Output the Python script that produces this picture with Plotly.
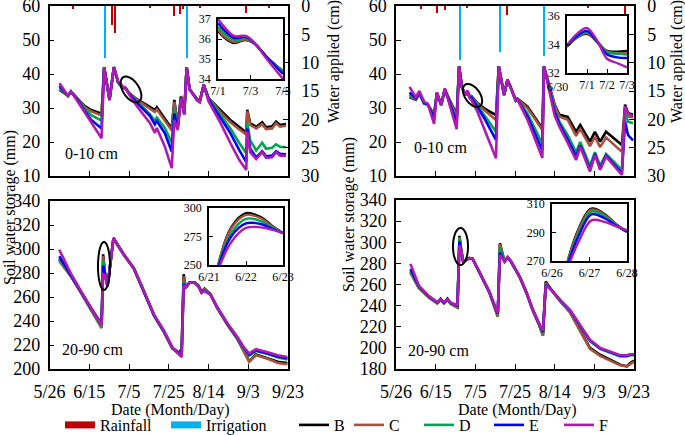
import numpy as np
import plotly.graph_objects as go

W, H = 685, 435
def fx(px): return px / W
def fy(py): return 1 - py / H

FONT = "Liberation Serif"

# ---------------- data (x = days since 5/26) ----------------
X_TICKVALS = [0, 20, 40, 60, 80, 100, 120]
X_TICKTEXT = ["5/26", "6/15", "7/5", "7/25", "8/14", "9/3", "9/23"]

# Top-left: 0-10 cm, panel 1 (mm)
TL_DAY = [5, 9.3, 10.8, 14.2, 17.6, 21, 26.2, 27.5, 30.2, 32.4, 34.5, 36, 37, 37.8, 38.3, 40, 44, 50.5, 53, 54,
          58, 61.5, 62.8, 64.5, 66.2, 67.8, 69, 70.5, 74.3, 75.6, 77.6, 80, 86, 91, 95.5, 99, 99.5, 101, 104, 107,
          109, 112, 114, 116, 119]
TL_B = [35.3, 33.6, 34.8, 32.6, 30.6, 29.4, 28.3, 42.0, 32.6, 42.0, 37.5, 36.4, 35.8, 35.95, 35.8, 34.4, 32.6, 30.3, 29.4, 30.2,
        26.8, 24.0, 32.4, 25.0, 33.5, 28.5, 42.0, 35.5, 32.6, 32.1, 36.8, 33.0, 29.4, 26.5, 24.4, 22.8, 29.5, 25.5, 24.5, 25.8,
        24.3, 24.6, 26.0, 25.0, 25.3]
TL_C = [35.5, 33.6, 34.8, 32.5, 30.3, 29.0, 27.8, 42.0, 32.5, 42.0, 37.5, 36.45, 35.85, 35.97, 35.8, 34.37, 32.5, 29.8, 28.8, 29.6,
        26.2, 23.4, 31.8, 24.8, 33.4, 28.4, 42.0, 35.5, 32.5, 32.0, 36.8, 33.0, 28.8, 25.8, 23.7, 22.2, 29.0, 25.0, 24.0, 25.2,
        23.8, 24.0, 25.5, 24.5, 24.8]
TL_D = [35.9, 33.6, 34.8, 32.4, 29.8, 27.9, 26.3, 42.0, 32.4, 42.0, 37.6, 36.6, 35.95, 36.02, 35.82, 34.35, 32.0, 28.2, 26.2, 27.2,
        24.2, 19.7, 29.9, 24.5, 33.3, 28.3, 42.0, 35.5, 32.4, 31.9, 36.8, 32.8, 28.0, 24.0, 19.7, 16.7, 25.5, 20.5, 17.5, 19.8,
        18.0, 18.3, 19.3, 18.6, 18.5]
TL_E = [36.5, 33.6, 34.8, 32.3, 29.2, 26.5, 24.0, 42.0, 32.3, 42.0, 37.7, 36.8, 36.05, 36.1, 35.82, 34.25, 31.5, 27.7, 25.2, 26.2,
        22.6, 17.2, 28.4, 24.0, 33.2, 28.2, 42.0, 35.5, 32.3, 31.8, 36.8, 32.5, 27.0, 22.6, 17.6, 14.1, 24.0, 18.0, 15.5, 17.3,
        15.8, 16.0, 17.3, 16.5, 16.4]
TL_F = [37.3, 33.6, 34.9, 31.9, 28.5, 25.5, 21.1, 42.0, 32.3, 42.0, 37.8, 37.0, 36.15, 36.15, 35.85, 34.0, 30.5, 25.6, 22.7, 24.1,
        18.7, 12.3, 26.5, 23.5, 33.0, 28.0, 42.0, 35.5, 32.2, 31.7, 36.8, 32.0, 25.6, 19.7, 14.7, 11.8, 23.0, 17.0, 15.0, 17.0,
        15.3, 15.5, 17.0, 16.0, 16.0]
TL_RAIN_DAY = [11.5, 31.2, 32.6, 50.5, 62.4, 65.5, 66.8, 75.5, 98.7, 110.0]
TL_RAIN = [0.5, 3.4, 4.8, 0.3, 1.8, 1.4, 0.5, 0.3, 1.3, 0.3]
TL_IRR_DAY = [27.5, 69.0]
TL_IRR = [9.1, 9.2]

# Top-right: 0-10 cm, panel 2 (mm)
TR_DAY = [6.8, 10, 11.8, 14.2, 16, 19.2, 20.6, 22.8, 24.6, 30.6, 31.8, 33.3, 35, 36, 37, 38, 41, 44.5, 50.4, 51.8,
          54.5, 56.2, 58, 60.4, 61.2, 66.3, 73.8, 74.6, 80, 82.4, 86.6, 90.8, 92.9, 97.8, 100.3, 102.9, 105.9, 113.9,
          115.5, 117, 119.5]
TR_B = [33.2, 32.4, 34.3, 31.3, 31.0, 28.0, 34.3, 31.0, 35.4, 28.0, 42.2, 36.0, 33.85, 34.75, 33.55, 33.55, 31.5, 29.9, 27.9, 42.3,
        33.8, 38.3, 35.8, 32.2, 32.8, 30.4, 24.0, 42.2, 31.0, 28.0, 27.4, 23.0, 25.0, 20.1, 23.0, 20.1, 23.0, 19.1, 31.0, 28.5, 28.0]
TR_C = [33.5, 32.5, 34.3, 31.3, 31.0, 27.8, 34.3, 31.0, 35.4, 27.5, 42.2, 36.0, 33.85, 34.8, 33.5, 33.4, 31.3, 29.4, 26.5, 42.3,
        33.8, 38.3, 35.8, 32.2, 32.7, 30.0, 23.5, 42.2, 30.8, 27.5, 26.5, 21.8, 23.8, 18.8, 21.5, 18.5, 21.3, 17.1, 30.0, 27.5, 27.3]
TR_D = [34.0, 32.6, 34.4, 31.4, 31.1, 27.5, 34.4, 30.9, 35.5, 26.5, 42.2, 36.0, 33.9, 34.85, 33.45, 33.3, 30.8, 27.9, 23.0, 42.3,
        33.8, 38.3, 35.8, 32.2, 32.6, 28.4, 19.5, 42.2, 29.5, 26.0, 22.0, 17.0, 20.0, 13.0, 17.0, 13.0, 16.5, 11.8, 28.5, 26.0, 25.5]
TR_E = [34.6, 32.8, 34.5, 31.5, 31.1, 27.0, 34.5, 30.9, 35.6, 25.5, 42.2, 36.0, 33.9, 34.95, 33.3, 33.05, 30.3, 27.0, 20.6, 42.3,
        33.8, 38.3, 35.8, 32.2, 32.6, 27.5, 17.5, 42.2, 28.8, 25.2, 20.6, 15.8, 19.0, 11.8, 16.5, 12.2, 16.0, 10.8, 26.0, 22.0, 20.5]
TR_F = [36.2, 33.2, 35.0, 31.8, 31.3, 25.3, 34.6, 30.8, 35.8, 23.8, 42.2, 36.0, 33.95, 35.15, 33.0, 32.4, 29.0, 24.0, 15.2, 42.3,
        33.8, 38.3, 35.8, 32.2, 32.5, 26.5, 15.3, 42.2, 27.8, 24.5, 19.7, 14.7, 18.6, 11.3, 16.2, 11.8, 15.7, 10.3, 30.5, 28.5, 27.5]
TR_RAIN_DAY = [12.7, 20.6, 24.9, 35.9, 55.8, 96.8, 115.4]
TR_RAIN = [0.6, 1.2, 0.7, 0.2, 1.6, 0.2, 1.8]
TR_IRR_DAY = [32.1, 52.4, 74.5]
TR_IRR = [9.5, 8.1, 8.9]

# Bottom-left: 20-90 cm, panel 1 (mm)
BL_DAY = [4.9, 10.8, 15.8, 20.9, 26.2, 27.0, 28.0, 29.2, 32.2, 37.4, 42.4, 47.5, 52.5, 57.6, 61.8, 65.2, 66.5, 67.5, 68.5,
          70.5, 73, 75, 76.5, 78, 81, 84.5, 89.6, 94.6, 98, 100.5, 103.9, 109.8, 114.9, 119.7]
BL_B = [291, 277.5, 264, 250, 234.7, 295.5, 278, 269, 309, 295.3, 284, 264.7, 245, 231, 217.5, 213.5, 217, 279, 268,
        272, 272, 269.5, 264, 267, 262.5, 250.8, 237, 225, 215, 206.4, 212, 209, 206, 205]
BL_C = [290, 277, 263.5, 249.5, 234, 294, 278, 269, 309, 295, 283.5, 264, 244.5, 230.5, 217, 212.5, 215.5, 277, 268,
        272, 272, 269, 264, 266.5, 262, 250.5, 236.5, 224.5, 214.5, 206, 211.5, 208.5, 205, 204]
BL_D = [292, 278, 264, 250.3, 235.5, 290.5, 278, 269, 309, 295.3, 284, 264.5, 245, 231, 217.5, 213, 213, 273, 268,
        272, 272, 269, 264, 265.5, 262, 250.8, 237, 225.5, 216, 211, 215, 212.5, 209.5, 208]
BL_E = [294, 278.5, 264.5, 250.8, 237.5, 286.5, 278, 269, 309, 295.3, 284, 264.5, 245.3, 231.5, 217.8, 212.5, 211.5, 271, 268,
        272, 272, 269, 264, 265, 262, 251, 237.5, 226, 217, 212, 215.5, 213, 210.5, 209]
BL_F = [299.4, 279.5, 265, 251, 236.5, 279, 278, 269, 309, 295.3, 284, 265, 245.5, 232, 218, 212, 210, 270, 268,
        272, 272, 268.5, 263.5, 265, 262, 251, 238, 226.5, 217.5, 213, 216.5, 214, 211.5, 210]

# Bottom-right: 20-90 cm, panel 2 (mm)
BR_DAY = [7.3, 11.5, 16.6, 20.8, 22.5, 24.2, 25.9, 27.6, 31.0, 32.0, 33.0, 33.9, 36.9, 38.6, 42, 47, 51.3, 52.4, 54.7,
          56.3, 58, 62.3, 65.6, 69, 72.4, 74.1, 75.5, 78.3, 82.6, 87.7, 92.7, 97.8, 102.9, 108, 113, 116.4, 118.1, 120]
BR_B = [271.7, 257, 248, 242.5, 246.5, 242.5, 246.5, 242, 238.5, 306, 290.5, 281.5, 285, 284.5, 272, 253, 230, 299, 282,
        286, 282, 267.5, 253, 235.5, 221, 212, 262.8, 255, 245, 234, 217, 200, 193.5, 188.8, 184, 182.5, 185.7, 188]
BR_C = [271, 256.5, 247.5, 242, 245.5, 242, 245.5, 241.5, 238, 305, 290.5, 281.5, 285, 284.5, 271.5, 252.5, 229.5, 298, 281.5,
        285.5, 281.5, 267, 252.5, 235, 220.5, 211.5, 261.5, 254.5, 244.5, 233.5, 216.5, 199, 192.5, 188, 183.5, 182.5, 185, 187]
BR_D = [273, 257.5, 248.3, 242.8, 245.5, 242.8, 245.5, 242.3, 239.3, 303.5, 290.5, 281.5, 285, 284.5, 272, 253.2, 231.5, 295, 281.5,
        285.5, 281.5, 267.5, 253.2, 236, 221.5, 213.5, 260.5, 255, 245.3, 235.5, 221, 206.5, 199, 195.5, 192, 192, 193, 193]
BR_E = [274.8, 258.5, 248.6, 243, 245.8, 243, 245.8, 242.5, 240, 301, 290.5, 281.5, 285, 284.5, 272, 253.3, 232.5, 290, 281.5,
        285.5, 281.5, 267.6, 253.4, 236, 221.8, 215, 259.5, 255, 245.5, 235.8, 221.5, 207, 199.5, 196, 192.5, 192.5, 193.5, 193.5]
BR_F = [279.5, 259, 249, 243.3, 246, 243.3, 246, 242.8, 240.5, 297, 291.5, 281.5, 285, 284.5, 272.3, 253.4, 233, 288, 282,
        286, 282, 267.6, 253.4, 236.2, 222, 216, 259, 255, 245.5, 236, 222, 207.7, 200, 196.7, 193, 193, 194, 194]

# Insets
TLI_DAY = [36, 36.5, 37, 37.7, 38.2, 39, 40]
TLI_B = [36.4, 36.0, 35.8, 35.95, 35.8, 35.1, 34.4]
TLI_C = [36.45, 36.05, 35.85, 35.97, 35.8, 35.1, 34.37]
TLI_D = [36.6, 36.2, 35.95, 36.02, 35.82, 35.1, 34.35]
TLI_E = [36.8, 36.35, 36.05, 36.1, 35.82, 35.1, 34.25]
TLI_F = [37.0, 36.5, 36.15, 36.15, 35.85, 35.0, 34.0]
TLI_XT = [36, 38, 40]; TLI_XL = ["7/1", "7/3", "7/5"]; TLI_YT = [34, 35, 36, 37]

TRI_DAY = [35, 35.5, 36, 36.5, 37, 37.5, 38]
TRI_B = [33.85, 34.5, 34.75, 34.2, 33.55, 33.5, 33.55]
TRI_C = [33.85, 34.5, 34.8, 34.2, 33.5, 33.4, 33.4]
TRI_D = [33.9, 34.55, 34.85, 34.2, 33.45, 33.35, 33.3]
TRI_E = [33.9, 34.6, 34.95, 34.2, 33.3, 33.1, 33.05]
TRI_F = [33.95, 34.75, 35.15, 34.3, 33.0, 32.7, 32.4]
TRI_XT = [35, 36, 37, 38]; TRI_XL = ["", "7/1", "7/2", "7/3"]; TRI_YT = [32, 34, 36]
TRI_FIRST_LABEL = "6/30"

BLI_DAY = [26.25, 26.6, 27.0, 27.4, 27.7, 28.0]
BLI_B = [250, 283, 295.5, 292, 284.5, 278]
BLI_C = [250, 282, 294, 291, 284, 278]
BLI_D = [249, 278, 290.5, 288.5, 283, 278]
BLI_E = [248, 275, 286.5, 286, 282, 278]
BLI_F = [246, 270, 282.5, 283, 281, 278]
BLI_XT = [26, 27, 28]; BLI_XL = ["6/21", "6/22", "6/23"]; BLI_YT = [250, 275, 300]

BRI_DAY = [31.4, 31.7, 32.05, 32.4, 32.7, 33.0]
BRI_B = [268, 292, 306.7, 303, 296, 290.5]
BRI_C = [268, 291, 306, 302.5, 296, 290.5]
BRI_D = [267, 289, 304.7, 301.5, 295.5, 290.5]
BRI_E = [266, 287, 302.8, 300, 295, 290.5]
BRI_F = [264, 283, 298.5, 297.5, 294.5, 291.5]
BRI_XT = [31, 32, 33]; BRI_XL = ["6/26", "6/27", "6/28"]; BRI_YT = [270, 290, 310]

SERIES = ["B", "C", "D", "E", "F"]
COLORS = {"B": "#000000", "C": "#A9503F", "D": "#00A650", "E": "#0000FF", "F": "#B01AB0"}
RAIN_COLOR = "#C00000"
IRR_COLOR = "#00B0F0"

fig = go.Figure()

def add_series(days, vals, xa, ya, legend_on, spline=False, width=2.6):
    for s, v in zip(SERIES, vals):
        fig.add_trace(go.Scatter(
            x=days, y=v, mode="lines", name=s, xaxis=xa, yaxis=ya,
            line=dict(color=COLORS[s], width=width, shape="spline" if spline else "linear"),
            showlegend=legend_on, legend="legend2" if s == "B" else "legend3", hoverinfo="skip"))

# water applied bars (secondary axes)
for days, vals, ya, xa, col in [(TL_RAIN_DAY, TL_RAIN, "y2", "x", RAIN_COLOR),
                                (TL_IRR_DAY, TL_IRR, "y2", "x", IRR_COLOR),
                                (TR_RAIN_DAY, TR_RAIN, "y4", "x2", RAIN_COLOR),
                                (TR_IRR_DAY, TR_IRR, "y4", "x2", IRR_COLOR)]:
    fig.add_trace(go.Bar(x=days, y=vals, xaxis=xa, yaxis=ya, width=0.6,
                         marker=dict(color=col, line=dict(width=0)), showlegend=False, hoverinfo="skip"))

add_series(TL_DAY, [TL_B, TL_C, TL_D, TL_E, TL_F], "x", "y", True)
add_series(TR_DAY, [TR_B, TR_C, TR_D, TR_E, TR_F], "x2", "y3", False)
add_series(BL_DAY, [BL_B, BL_C, BL_D, BL_E, BL_F], "x3", "y5", False)
add_series(BR_DAY, [BR_B, BR_C, BR_D, BR_E, BR_F], "x4", "y6", False)
add_series(TLI_DAY, [TLI_B, TLI_C, TLI_D, TLI_E, TLI_F], "x5", "y7", False, spline=True, width=2.4)
add_series(TRI_DAY, [TRI_B, TRI_C, TRI_D, TRI_E, TRI_F], "x6", "y8", False, spline=True, width=2.4)
add_series(BLI_DAY, [BLI_B, BLI_C, BLI_D, BLI_E, BLI_F], "x7", "y9", False, spline=True, width=2.4)
add_series(BRI_DAY, [BRI_B, BRI_C, BRI_D, BRI_E, BRI_F], "x8", "y10", False, spline=True, width=2.4)

# legend entries for bars
fig.add_trace(go.Scatter(x=[None], y=[None], mode="lines", name="Rainfall",
                         line=dict(color=RAIN_COLOR, width=7), legend="legend", xaxis="x", yaxis="y"))
fig.add_trace(go.Scatter(x=[None], y=[None], mode="lines", name="Irrigation",
                         line=dict(color=IRR_COLOR, width=7), legend="legend", xaxis="x", yaxis="y"))

def box(**kw):
    d = dict(showline=True, linecolor="black", linewidth=1.5, mirror=True, ticks="inside", ticklen=5,
             tickcolor="black", tickwidth=1.2, showgrid=False, zeroline=False, tickangle=0, automargin=False,
             tickfont=dict(family=FONT, size=18, color="black"))
    d.update(kw)
    return d

def dom(a, b, horiz):
    return [fx(a), fx(b)] if horiz else [fy(b), fy(a)]

TLX, TRX = (49.5, 288), (396, 634)
TY, BLY, BRY = (6, 176), (201, 369), (200, 369)

lay = dict(
    width=W, height=H, margin=dict(l=0, r=0, t=0, b=0, autoexpand=False),
    plot_bgcolor="white", paper_bgcolor="white",
    font=dict(family=FONT, size=16, color="black"),
    bargap=0, barmode="overlay",
    xaxis=box(domain=dom(*TLX, True), anchor="y", range=[0, 120], tickvals=X_TICKVALS, showticklabels=False),
    yaxis=box(domain=dom(*TY, False), anchor="x", range=[10, 60], dtick=10, mirror=False, ticklabelstandoff=4),
    yaxis2=box(domain=dom(*TY, False), anchor="x", overlaying="y", side="right", range=[30, 0],
               tickvals=[0, 5, 10, 15, 20, 25, 30], mirror=False, ticklabelstandoff=8),
    xaxis2=box(domain=dom(*TRX, True), anchor="y3", range=[0, 120], tickvals=X_TICKVALS, showticklabels=False),
    yaxis3=box(domain=dom(*TY, False), anchor="x2", range=[10, 60], dtick=10, mirror=False, ticklabelstandoff=4),
    yaxis4=box(domain=dom(*TY, False), anchor="x2", overlaying="y3", side="right", range=[30, 0],
               tickvals=[0, 5, 10, 15, 20, 25, 30], mirror=False, ticklabelstandoff=8),
    xaxis3=box(domain=dom(*TLX, True), anchor="y5", range=[0, 120], tickvals=X_TICKVALS, ticktext=X_TICKTEXT,
               ticklabelstandoff=6),
    yaxis5=box(domain=dom(*BLY, False), anchor="x3", range=[200, 340], dtick=20, ticklabelstandoff=4),
    xaxis4=box(domain=dom(*TRX, True), anchor="y6", range=[0, 120], tickvals=X_TICKVALS, ticktext=X_TICKTEXT,
               ticklabelstandoff=6),
    yaxis6=box(domain=dom(*BRY, False), anchor="x4", range=[180, 340], dtick=20, ticklabelstandoff=4),
)

small = dict(family=FONT, size=12, color="black")
insets = [("5", "7", (218, 283), (19, 79), [36, 40], [34, 37], TLI_XT, TLI_XL, TLI_YT),
          ("6", "8", (567, 627), (16, 73), [35, 38], [32, 36], TRI_XT, TRI_XL, TRI_YT),
          ("7", "9", (209, 283), (208, 265), [26, 28], [250, 300], BLI_XT, BLI_XL, BLI_YT),
          ("8", "10", (552, 627), (204, 261), [31, 33], [270, 310], BRI_XT, BRI_XL, BRI_YT)]
for xi, yi, xs, ys, xr, yr, xt, xl, yt in insets:
    lay["xaxis" + xi] = box(domain=dom(*xs, True), anchor="y" + yi, range=xr, tickvals=xt, ticktext=xl,
                            tickfont=small, ticklen=4, ticklabelstandoff=0)
    lay["yaxis" + yi] = box(domain=dom(*ys, False), anchor="x" + xi, range=yr, tickvals=yt,
                            tickfont=small, ticklen=4, ticklabelstandoff=3)

leg = dict(orientation="h", y=fy(425), xanchor="left", yanchor="middle",
           font=dict(family=FONT, size=16), bgcolor="rgba(0,0,0,0)", itemwidth=30, traceorder="normal")
lay["legend"] = dict(leg, x=fx(60), entrywidth=61)
lay["legend2"] = dict(leg, x=fx(294), entrywidth=25)
lay["legend3"] = dict(leg, x=fx(349), entrywidth=25)
fig.update_layout(**lay)

# text annotations
ann = []
def text(px, py, s, size=16, angle=0):
    ann.append(dict(x=fx(px), y=fy(py), xref="paper", yref="paper", text=s, showarrow=False,
                    textangle=angle, font=dict(family=FONT, size=size, color="black"),
                    xanchor="center", yanchor="middle"))
text(91, 153, "0-10 cm"); text(440, 148, "0-10 cm")
text(92, 349, "20-90 cm"); text(438, 350, "20-90 cm")
text(10, 208, "Soil water storage (mm)", 16, -90); text(349, 215, "Soil water storage (mm)", 16, -90)
text(334, 62, "Water applied (cm)", 16, -90); text(677, 62, "Water applied (cm)", 16, -90)
text(170, 410, "Date (Month/Day)"); text(517, 410, "Date (Month/Day)")
text(557, 87, TRI_FIRST_LABEL, 12)
fig.update_layout(annotations=ann)

# ellipses highlighting the zoomed regions
def ellipse(cx, cy, a, b, deg):
    t = np.linspace(0, 2 * np.pi, 60)
    th = np.radians(deg)
    xs = cx + a * np.cos(t) * np.cos(th) - b * np.sin(t) * np.sin(th)
    ys = cy + a * np.cos(t) * np.sin(th) + b * np.sin(t) * np.cos(th)
    p = "M " + " L ".join(f"{fx(x):.5f},{fy(y):.5f}" for x, y in zip(xs, ys)) + " Z"
    return dict(type="path", path=p, xref="paper", yref="paper", line=dict(color="black", width=2))
fig.update_layout(shapes=[ellipse(131, 89.5, 14.5, 8, 57), ellipse(472.5, 95.5, 13, 7.5, 55),
                          ellipse(104, 266, 24, 6, 90), ellipse(460.5, 246.5, 18.5, 7.5, 90)])

fig.write_html("out.html", config={"displayModeBar": False},
               post_script="document.body.style.margin='0px';document.body.style.overflow='hidden';")
